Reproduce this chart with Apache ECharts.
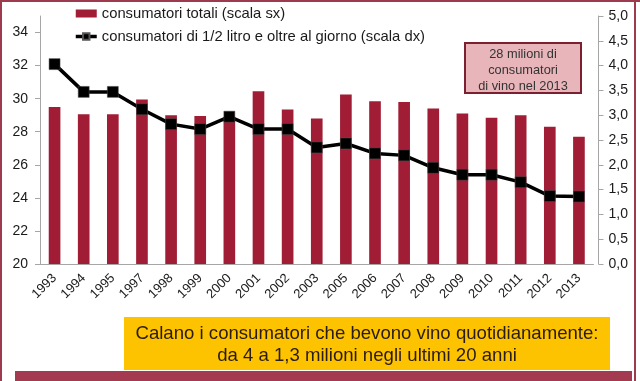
<!DOCTYPE html>
<html>
<head>
<meta charset="utf-8">
<script src="https://cdn.jsdelivr.net/npm/echarts@6/dist/echarts.min.js"></script>
<style>html,body{margin:0;padding:0;background:#fff}#c{width:640px;height:381px}</style>
</head>
<body>
<div id="c"></div>
<script>
const categories = ['1993','1994','1995','1997','1998','1999','2000','2001','2002','2003','2005','2006','2007','2008','2009','2010','2011','2012','2013'];
const totalConsumers = [29.5,29.05,29.05,29.95,29.0,28.95,28.9,30.45,29.35,28.8,30.25,29.85,29.8,29.4,29.1,28.85,29.0,28.3,27.7];
const dailyConsumers = [4.03,3.47,3.47,3.12,2.82,2.72,2.97,2.72,2.72,2.35,2.43,2.23,2.19,1.94,1.80,1.80,1.65,1.37,1.36];
const seriesNames = ['consumatori totali (scala sx)','consumatori di 1/2 litro e oltre al giorno (scala dx)'];
const noteLines = ['28 milioni di','consumatori','di vino nel 2013'];
const bannerLines = ['Calano i consumatori che bevono vino quotidianamente:','da 4 a 1,3 milioni negli ultimi 20 anni'];

const FONT = '"Liberation Sans", Arial, sans-serif';
const chart = echarts.init(document.getElementById('c'), null, {renderer:'canvas'});
const axisGray = '#a6a6a6';
chart.setOption({
  animation:false,
  textStyle:{fontFamily:FONT},
  grid:{left:40,right:46.5,top:16,bottom:117,containLabel:false},
  legend:{
    left:69, top:1, orient:'vertical', itemGap:8, itemWidth:21, itemHeight:8,
    textStyle:{fontSize:14.8,color:'#1a1a1a',fontFamily:FONT},
    data:[{name:seriesNames[0],icon:'rect'},{name:seriesNames[1],lineStyle:{width:3.5,color:'#000'}}]
  },
  xAxis:{
    type:'category', data:categories,
    axisLine:{lineStyle:{color:axisGray,width:1}},
    axisTick:{length:5,lineStyle:{color:axisGray}},
    axisLabel:{rotate:45,fontSize:13,color:'#1a1a1a',margin:12,interval:0,fontFamily:FONT}
  },
  yAxis:[
    {type:'value',min:20,max:35,interval:2,position:'left',
     axisLine:{show:true,lineStyle:{color:axisGray}},
     axisTick:{show:true,length:5,lineStyle:{color:axisGray}},
     splitLine:{show:false},
     axisLabel:{fontSize:14,color:'#1a1a1a',margin:12,showMaxLabel:false,fontFamily:FONT}},
    {type:'value',min:0,max:5,interval:0.5,position:'right',offset:5,
     axisLine:{show:true,lineStyle:{color:axisGray}},
     axisTick:{show:true,length:5,lineStyle:{color:axisGray}},
     splitLine:{show:false},
     axisLabel:{fontSize:14,color:'#1a1a1a',margin:10,fontFamily:FONT,
       formatter:v=>v.toFixed(1).replace('.',',')}}
  ],
  series:[
    {name:seriesNames[0],type:'bar',yAxisIndex:0,data:totalConsumers,barWidth:'40%',
     itemStyle:{color:'#a01d35'}},
    {name:seriesNames[1],type:'line',yAxisIndex:1,data:dailyConsumers,
     symbol:'rect',symbolSize:11,
     lineStyle:{color:'#000',width:3.5},
     itemStyle:{color:'#000',borderColor:'#555',borderWidth:0.5}}
  ],
  graphic:[
    {type:'rect',shape:{x:0,y:0,width:640,height:2},style:{fill:'#9e3a4d'}},
    {type:'rect',shape:{x:0,y:0,width:2,height:381},style:{fill:'#9e3a4d'}},
    {type:'rect',shape:{x:634,y:0,width:2,height:381},style:{fill:'#9e3a4d'}},
    {type:'rect',shape:{x:15,y:371,width:617,height:10},style:{fill:'#a33a4f'}},
    {type:'rect',shape:{x:124,y:317,width:486,height:53},style:{fill:'#fdc300'}},
    {type:'text',x:367,y:334,style:{text:bannerLines[0],fill:'#2a1c10',font:'18.6px '+FONT,align:'center',verticalAlign:'middle'}},
    {type:'text',x:367,y:356,style:{text:bannerLines[1],fill:'#2a1c10',font:'18.6px '+FONT,align:'center',verticalAlign:'middle'}},
    {type:'rect',shape:{x:465,y:43,width:116,height:50},style:{fill:'#e8b6ba',stroke:'#7a2030',lineWidth:2}},
    {type:'text',x:523,y:54,style:{text:noteLines[0],fill:'#333',font:'12.8px '+FONT,align:'center',verticalAlign:'middle'}},
    {type:'text',x:523,y:70,style:{text:noteLines[1],fill:'#333',font:'12.8px '+FONT,align:'center',verticalAlign:'middle'}},
    {type:'text',x:523,y:86,style:{text:noteLines[2],fill:'#333',font:'12.8px '+FONT,align:'center',verticalAlign:'middle'}}
  ]
});
</script>
</body>
</html>
